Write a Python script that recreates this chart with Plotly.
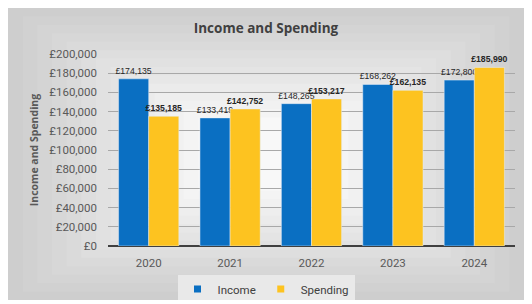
import plotly.graph_objects as go

years = ["2020", "2021", "2022", "2023", "2024"]
income = [174135, 133419, 148265, 168262, 172800]
spending = [135185, 142752, 153217, 162135, 185990]
tick_vals = [0, 20000, 40000, 60000, 80000, 100000, 120000, 140000, 160000, 180000, 200000]
tick_text = ["£0", "£20,000", "£40,000", "£60,000", "£80,000", "£100,000",
             "£120,000", "£140,000", "£160,000", "£180,000", "£200,000"]

def money(v):
    return "£{:,}".format(v)

label_font = dict(family="Liberation Sans, Arial", size=8.7, color="#262626")

fig = go.Figure()
fig.add_trace(go.Bar(
    name="Income", x=years, y=income, marker_color="#0A6FC2", showlegend=False,
    text=[money(v) for v in income], textposition="outside", cliponaxis=False,
    constraintext="none", textfont=label_font,
))
fig.add_trace(go.Bar(
    name="Spending", x=years, y=spending, marker_color="#FDC320", showlegend=False,
    text=["<b>" + money(v) + "</b>" for v in spending], textposition="outside", cliponaxis=False,
    constraintext="none", textfont=label_font,
))
fig.add_trace(go.Scatter(name="Income", x=[None], y=[None], mode="markers",
                         marker=dict(symbol="square", size=7, color="#0A6FC2")))
fig.add_trace(go.Scatter(name="Spending", x=[None], y=[None], mode="markers",
                         marker=dict(symbol="square", size=7, color="#FDC320")))

# figure size / plot area (figure pixels)
W, H = 516.0, 292.0
L, R, T, B = 100, 9, 46, 54
PW, PH = W - L - R, H - T - B

def px_x(x):
    return (x - L) / PW

def px_y(y):
    return (H - B - y) / PH

shapes = []
steps = 14
for i in range(steps):
    f = i / steps
    inset_x = f * 205
    inset_y = f * 118
    g = int(206 + (248 - 206) * (i / (steps - 1)))
    col = "rgb({0},{0},{0})".format(g)
    shapes.append(dict(type="rect", xref="paper", yref="paper",
                       x0=px_x(0 + inset_x), x1=px_x(W - inset_x),
                       y0=px_y(H - inset_y), y1=px_y(0 + inset_y),
                       line=dict(width=0), fillcolor=col, layer="below"))

fig.update_layout(
    width=int(W), height=int(H),
    margin=dict(l=L, r=R, t=T, b=B),
    paper_bgcolor="rgb(206,206,206)", plot_bgcolor="rgba(0,0,0,0)",
    shapes=shapes,
    barmode="group", bargap=0.26, bargroupgap=0.0,
    title=dict(text="<b>Income and Spending</b>", x=0.5, xref="container", xanchor="center",
               y=1 - 20 / H, yref="container", yanchor="middle",
               font=dict(family="Open Sans, Liberation Sans", size=13.5, color="#404040")),
    font=dict(family="Roboto, Liberation Sans, Arial", color="#595959"),
    legend=dict(orientation="h", x=0.5, xref="container", xanchor="center",
                y=1 - 281 / H, yref="container", yanchor="middle",
                bgcolor="#e9e9e9", font=dict(size=11.5, color="#404040"),
                itemwidth=30, tracegroupgap=0, entrywidth=0),
    xaxis=dict(showgrid=False, tickfont=dict(size=11.5, color="#595959"),
               showline=False, ticks="", ticklabelstandoff=8, automargin=False),
    yaxis=dict(range=[0, 200000], tickvals=tick_vals, ticktext=tick_text,
               showgrid=True, gridcolor="#a8a8a8", gridwidth=1,
               zeroline=True, zerolinecolor="#404040", zerolinewidth=2,
               tickfont=dict(size=11.5, color="#595959"), ticks="", ticklabelstandoff=10,
               automargin=False,
               title=dict(text="<b>Income and Spending</b>", standoff=8,
                          font=dict(family="Open Sans, Liberation Sans", size=10.5, color="#595959"))),
    showlegend=True,
)

fig.write_html("out.html")
